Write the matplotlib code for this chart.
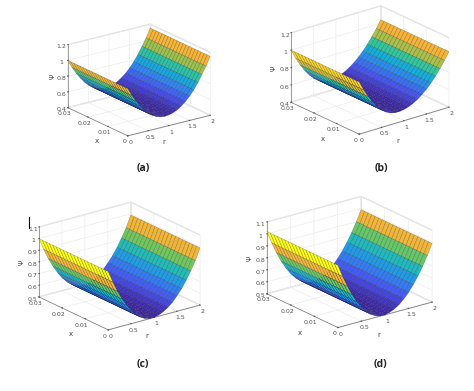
import numpy as np
import matplotlib
matplotlib.use("Agg")
import matplotlib.pyplot as plt
from matplotlib.colors import LinearSegmentedColormap, Normalize
from matplotlib.lines import Line2D

W, H = 474, 391

# grid of the surfaces
r_values = [0.0, 0.1, 0.2, 0.3, 0.4, 0.5, 0.6, 0.7, 0.8, 0.9, 1.0,
            1.1, 1.2, 1.3, 1.4, 1.5, 1.6, 1.7, 1.8, 1.9, 2.0]
x_values = [0.0, 0.0015, 0.003, 0.0045, 0.006, 0.0075, 0.009, 0.0105, 0.012, 0.0135, 0.015,
            0.0165, 0.018, 0.0195, 0.021, 0.0225, 0.024, 0.0255, 0.027, 0.0285, 0.03]

# psi along r (flat along x)
psi_a = [1.00, 0.901, 0.814, 0.739, 0.675, 0.623, 0.582, 0.553, 0.536, 0.53, 0.535,
         0.55, 0.574, 0.609, 0.654, 0.71, 0.775, 0.855, 0.945, 1.04, 1.15]
psi_b = [1.00, 0.894, 0.801, 0.721, 0.654, 0.602, 0.562, 0.535, 0.522, 0.521, 0.529,
         0.544, 0.568, 0.60, 0.639, 0.686, 0.741, 0.804, 0.875, 0.954, 1.04]
psi_c = [1.00, 0.90, 0.81, 0.734, 0.668, 0.612, 0.568, 0.535, 0.512, 0.501, 0.501,
         0.51, 0.528, 0.554, 0.588, 0.633, 0.683, 0.745, 0.815, 0.893, 0.99]
psi_d = [1.02, 0.916, 0.824, 0.743, 0.674, 0.617, 0.571, 0.536, 0.513, 0.501, 0.501,
         0.51, 0.528, 0.554, 0.59, 0.634, 0.688, 0.75, 0.821, 0.901, 0.99]

r_ticks = [0, 0.5, 1, 1.5, 2]
x_ticks = [0, 0.01, 0.02, 0.03]
psi_ticks_ab = [0.4, 0.6, 0.8, 1, 1.2]
psi_ticks_cd = [0.5, 0.6, 0.7, 0.8, 0.9, 1, 1.1]
captions = ["(a)", "(b)", "(c)", "(d)"]

parula = LinearSegmentedColormap.from_list("parula", [
    (0.0, (0.2422, 0.1504, 0.6603)), (0.14, (0.2810, 0.3228, 0.9579)), (0.29, (0.1786, 0.5289, 0.9682)),
    (0.43, (0.0689, 0.6948, 0.8394)), (0.55, (0.20, 0.78, 0.60)), (0.64, (0.47, 0.78, 0.33)),
    (0.74, (0.93, 0.72, 0.22)), (0.86, (0.98, 0.70, 0.20)), (1.0, (0.98, 0.98, 0.08))])


def fmt(v):
    return f"{v:g}"


def px_text(fig, px, py, s, **kw):
    fig.text(px / W, 1 - py / H, s, ha="center", va="center", **kw)


# cx, cy = middle of the box in pixels, lengths in pixels of r, x and psi edges
def draw_panel(fig, psi, psi_ticks, zlim, cx, cy, lengths, elev, azim, label_pos):
    norm_len = np.linalg.norm(lengths)
    side = norm_len / (1.8294640721620434 * 25 / 24) * 1.85
    left = cx - side * 0.095 / 0.185
    bottom = (H - cy) - side * 0.095 / 0.185
    ax = fig.add_axes([left / W, bottom / H, side / W, side / H], projection="3d", proj_type="ortho")
    ax.patch.set_alpha(0)
    ax.view_init(elev=elev, azim=azim)
    ax.set_box_aspect(lengths)

    R, X = np.meshgrid(r_values, x_values)
    Z = np.tile(psi, (len(x_values), 1))
    # colour of a facet comes from its first corner, like flat shading in the original
    colors = parula(Normalize(min(psi), max(psi))(Z))
    ax.plot_surface(R, X, Z, facecolors=colors, rstride=1, cstride=1,
                    edgecolor=(0.05, 0.05, 0.1, 0.35), linewidth=0.35, shade=False, antialiased=True)

    ax.set_xlim(0, 2)
    ax.set_ylim(0, 0.03)
    ax.set_zlim(*zlim)
    ax.set_xticks(r_ticks, [fmt(v) for v in r_ticks])
    ax.set_yticks(x_ticks, [fmt(v) for v in x_ticks])
    ax.set_zticks(psi_ticks, [fmt(v) for v in psi_ticks])
    ax.tick_params(labelsize=4.5, labelcolor="#555555", pad=-5.5, width=0.3, colors="#555555")
    for axis in (ax.xaxis, ax.yaxis, ax.zaxis):
        axis.set_pane_color((1, 1, 1, 1))
        axis.pane.set_edgecolor("#e2e2e2")
        axis.line.set_color("#777777")
        axis.line.set_linewidth(0.5)
        axis._axinfo["grid"]["color"] = "#e8e8e8"
        axis._axinfo["grid"]["linewidth"] = 0.4
        axis._axinfo["tick"]["inward_factor"] = 0.0
        axis._axinfo["tick"]["outward_factor"] = 0.06

    (xx, xy), (rx, ry), (px, py) = label_pos
    px_text(fig, xx, xy, "x", fontsize=5, color="#444444")
    px_text(fig, rx, ry, "r", fontsize=5, color="#444444")
    px_text(fig, px, py, "Ψ", fontsize=5, color="#444444", rotation=90)
    return ax


fig = plt.figure(figsize=(W / 100, H / 100), dpi=100)

draw_panel(fig, psi_a, psi_ticks_ab, (0.4, 1.2), 139, 80, (102, 102, 67), 20, -126,
           [(97, 141), (164, 142), (53, 76)])
draw_panel(fig, psi_b, psi_ticks_ab, (0.4, 1.2), 370, 70, (115, 109, 75), 22, -128.7,
           [(323, 139), (398, 141), (274, 68)])
draw_panel(fig, psi_c, psi_ticks_cd, (0.5, 1.1), 119.5, 266, (115, 115, 75), 21, -127,
           [(71, 334), (147, 336), (22, 262)])
draw_panel(fig, psi_d, psi_ticks_cd, (0.5, 1.1), 349.5, 262, (118, 118, 77), 21, -127,
           [(300, 333), (379, 335), (250, 258)])

# caption of each panel
caption_pos = [(143, 169), (381, 169), (143, 364), (380, 364)]
for txt, (px, py) in zip(captions, caption_pos):
    px_text(fig, px, py, txt, fontsize=7.5, fontweight="bold", family="Open Sans", color="#222222")

# stray cursor mark next to panel (c)
fig.add_artist(Line2D([28.5 / W, 28.5 / W], [1 - 217 / H, 1 - 228 / H], color="black", lw=0.8))

fig.savefig("out.png", dpi=100)
